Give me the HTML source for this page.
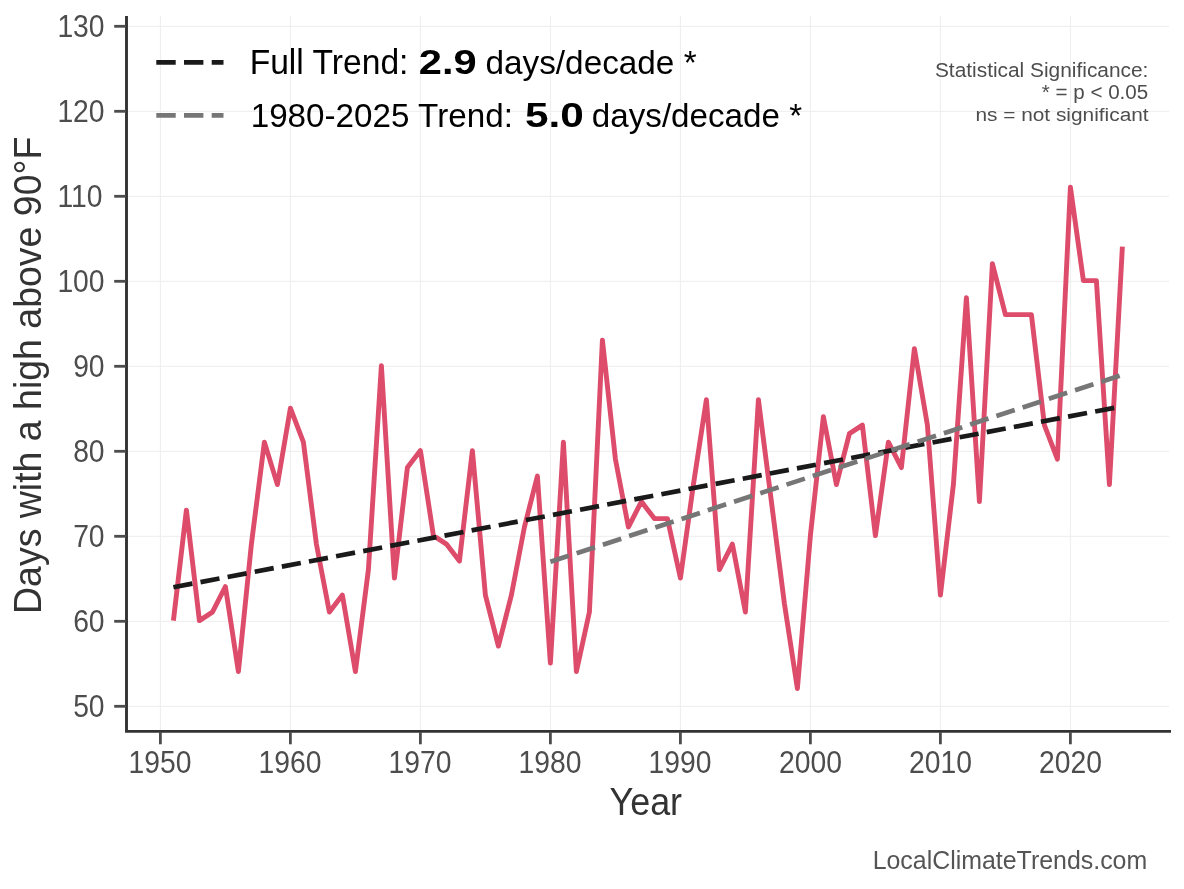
<!DOCTYPE html>
<html><head><meta charset="utf-8"><style>
html,body{margin:0;padding:0;background:#fff;overflow:hidden;}
svg{display:block;will-change:transform;}
text{font-family:"Liberation Sans", sans-serif;}
</style></head><body>
<svg width="1184" height="889" viewBox="0 0 1184 889">
<rect width="1184" height="889" fill="#fff"/>
<g stroke="#ededed" stroke-width="1"><line x1="127.9" x2="1169" y1="706.30" y2="706.30"/><line x1="127.9" x2="1169" y1="621.30" y2="621.30"/><line x1="127.9" x2="1169" y1="536.30" y2="536.30"/><line x1="127.9" x2="1169" y1="451.30" y2="451.30"/><line x1="127.9" x2="1169" y1="366.30" y2="366.30"/><line x1="127.9" x2="1169" y1="281.30" y2="281.30"/><line x1="127.9" x2="1169" y1="196.30" y2="196.30"/><line x1="127.9" x2="1169" y1="111.30" y2="111.30"/><line x1="127.9" x2="1169" y1="26.30" y2="26.30"/><line y1="16" y2="730" x1="160.40" x2="160.40"/><line y1="16" y2="730" x1="290.40" x2="290.40"/><line y1="16" y2="730" x1="420.40" x2="420.40"/><line y1="16" y2="730" x1="550.40" x2="550.40"/><line y1="16" y2="730" x1="680.40" x2="680.40"/><line y1="16" y2="730" x1="810.40" x2="810.40"/><line y1="16" y2="730" x1="940.40" x2="940.40"/><line y1="16" y2="730" x1="1070.40" x2="1070.40"/></g>
<polyline points="173.40,620.60 186.40,510.10 199.40,620.60 212.40,612.10 225.40,586.60 238.40,671.60 251.40,544.10 264.40,442.10 277.40,484.60 290.40,408.10 303.40,442.10 316.40,544.10 329.40,612.10 342.40,595.10 355.40,671.60 368.40,569.60 381.40,365.60 394.40,578.10 407.40,467.60 420.40,450.60 433.40,535.60 446.40,544.10 459.40,561.10 472.40,450.60 485.40,595.10 498.40,646.10 511.40,595.10 524.40,527.10 537.40,476.10 550.40,663.10 563.40,442.10 576.40,671.60 589.40,612.10 602.40,340.10 615.40,459.10 628.40,527.10 641.40,501.60 654.40,518.60 667.40,518.60 680.40,578.10 693.40,484.60 706.40,399.60 719.40,569.60 732.40,544.10 745.40,612.10 758.40,399.60 771.40,501.60 784.40,603.60 797.40,688.60 810.40,535.60 823.40,416.60 836.40,484.60 849.40,433.60 862.40,425.10 875.40,535.60 888.40,442.10 901.40,467.60 914.40,348.60 927.40,425.10 940.40,595.10 953.40,484.60 966.40,297.60 979.40,501.60 992.40,263.60 1005.40,314.60 1018.40,314.60 1031.40,314.60 1044.40,425.10 1057.40,459.10 1070.40,187.10 1083.40,280.60 1096.40,280.60 1109.40,484.60 1122.40,246.60" fill="none" stroke="#dd4c6b" stroke-width="4.9" stroke-linejoin="round" stroke-linecap="butt"/>
<line x1="173.40" y1="587.30" x2="1122.10" y2="406.31" stroke="#1a1a1a" stroke-width="4.7" stroke-dasharray="19.3 8.3"/>
<line x1="550.40" y1="561.80" x2="1122.40" y2="374.80" stroke="#767676" stroke-width="4.7" stroke-dasharray="19.3 8.3"/>
<polyline points="126.5,16 126.5,731.4 1171,731.4" stroke="#333333" stroke-width="2.9" fill="none"/>
<g stroke="#4d4d4d" stroke-width="2.8"><line x1="114.2" x2="126" y1="706.30" y2="706.30"/><line x1="114.2" x2="126" y1="621.30" y2="621.30"/><line x1="114.2" x2="126" y1="536.30" y2="536.30"/><line x1="114.2" x2="126" y1="451.30" y2="451.30"/><line x1="114.2" x2="126" y1="366.30" y2="366.30"/><line x1="114.2" x2="126" y1="281.30" y2="281.30"/><line x1="114.2" x2="126" y1="196.30" y2="196.30"/><line x1="114.2" x2="126" y1="111.30" y2="111.30"/><line x1="114.2" x2="126" y1="26.30" y2="26.30"/><line y1="732" y2="744.3" x1="160.40" x2="160.40"/><line y1="732" y2="744.3" x1="290.40" x2="290.40"/><line y1="732" y2="744.3" x1="420.40" x2="420.40"/><line y1="732" y2="744.3" x1="550.40" x2="550.40"/><line y1="732" y2="744.3" x1="680.40" x2="680.40"/><line y1="732" y2="744.3" x1="810.40" x2="810.40"/><line y1="732" y2="744.3" x1="940.40" x2="940.40"/><line y1="732" y2="744.3" x1="1070.40" x2="1070.40"/></g>
<g stroke-width="4.7">
<line x1="156.3" x2="223.5" y1="62.45" y2="62.45" stroke="#1a1a1a" stroke-dasharray="19.4 8.3"/>
<line x1="156.3" x2="223.5" y1="115.4" y2="115.4" stroke="#767676" stroke-dasharray="19.4 8.3"/>
</g>
<text transform="translate(73.13,716.60) scale(0.9108,1)" font-size="31.07" fill="#4d4d4d">50</text>
<text transform="translate(73.13,631.60) scale(0.9108,1)" font-size="31.07" fill="#4d4d4d">60</text>
<text transform="translate(73.13,546.60) scale(0.9108,1)" font-size="31.07" fill="#4d4d4d">70</text>
<text transform="translate(73.13,461.60) scale(0.9108,1)" font-size="31.07" fill="#4d4d4d">80</text>
<text transform="translate(73.13,376.60) scale(0.9108,1)" font-size="31.07" fill="#4d4d4d">90</text>
<text transform="translate(57.39,291.60) scale(0.9108,1)" font-size="31.07" fill="#4d4d4d">100</text>
<text transform="translate(57.39,206.60) scale(0.9108,1)" font-size="31.07" fill="#4d4d4d">110</text>
<text transform="translate(57.39,121.60) scale(0.9108,1)" font-size="31.07" fill="#4d4d4d">120</text>
<text transform="translate(57.39,36.60) scale(0.9108,1)" font-size="31.07" fill="#4d4d4d">130</text>
<text transform="translate(128.60,772.65) scale(0.9087,1)" font-size="31.14" fill="#4d4d4d">1950</text>
<text transform="translate(258.60,772.65) scale(0.9087,1)" font-size="31.14" fill="#4d4d4d">1960</text>
<text transform="translate(388.60,772.65) scale(0.9087,1)" font-size="31.14" fill="#4d4d4d">1970</text>
<text transform="translate(518.60,772.65) scale(0.9087,1)" font-size="31.14" fill="#4d4d4d">1980</text>
<text transform="translate(648.60,772.65) scale(0.9087,1)" font-size="31.14" fill="#4d4d4d">1990</text>
<text transform="translate(778.96,772.65) scale(0.9087,1)" font-size="31.14" fill="#4d4d4d">2000</text>
<text transform="translate(908.96,772.65) scale(0.9087,1)" font-size="31.14" fill="#4d4d4d">2010</text>
<text transform="translate(1038.96,772.65) scale(0.9087,1)" font-size="31.14" fill="#4d4d4d">2020</text>
<text transform="translate(609.51,814.90) scale(0.9188,1)" font-size="39.10" fill="#333333">Year</text>
<text transform="translate(41.0,613.97) rotate(-90) scale(0.9513,1)" font-size="39.39" fill="#333333">Days with a high above 90°F</text>
<text transform="translate(249.64,74.00) scale(0.9850,1)" font-size="34.14" fill="#000">Full Trend:</text>
<text transform="translate(418.86,73.66) scale(1.1793,1)" font-size="35.31" fill="#000" font-weight="bold">2.9</text>
<text transform="translate(485.50,74.00) scale(0.9761,1)" font-size="34.14" fill="#000">days/decade *</text>
<text transform="translate(250.67,126.90) scale(0.9732,1)" font-size="34.14" fill="#000">1980-2025 Trend:</text>
<text transform="translate(525.00,126.85) scale(1.1798,1)" font-size="35.88" fill="#000" font-weight="bold">5.0</text>
<text transform="translate(591.81,126.90) scale(0.9719,1)" font-size="34.14" fill="#000">days/decade *</text>
<text transform="translate(934.95,76.80) scale(0.9978,1)" font-size="20.93" fill="#4d4d4d">Statistical Significance:</text>
<text transform="translate(1041.87,99.00) scale(1.0116,1)" font-size="20.34" fill="#4d4d4d">* = p &lt; 0.05</text>
<text transform="translate(975.41,120.70) scale(1.0861,1)" font-size="19.20" fill="#4d4d4d">ns = not significant</text>
<text transform="translate(872.66,868.90) scale(0.9472,1)" font-size="26.31" fill="#555555">LocalClimateTrends.com</text>
</svg>
</body></html>
